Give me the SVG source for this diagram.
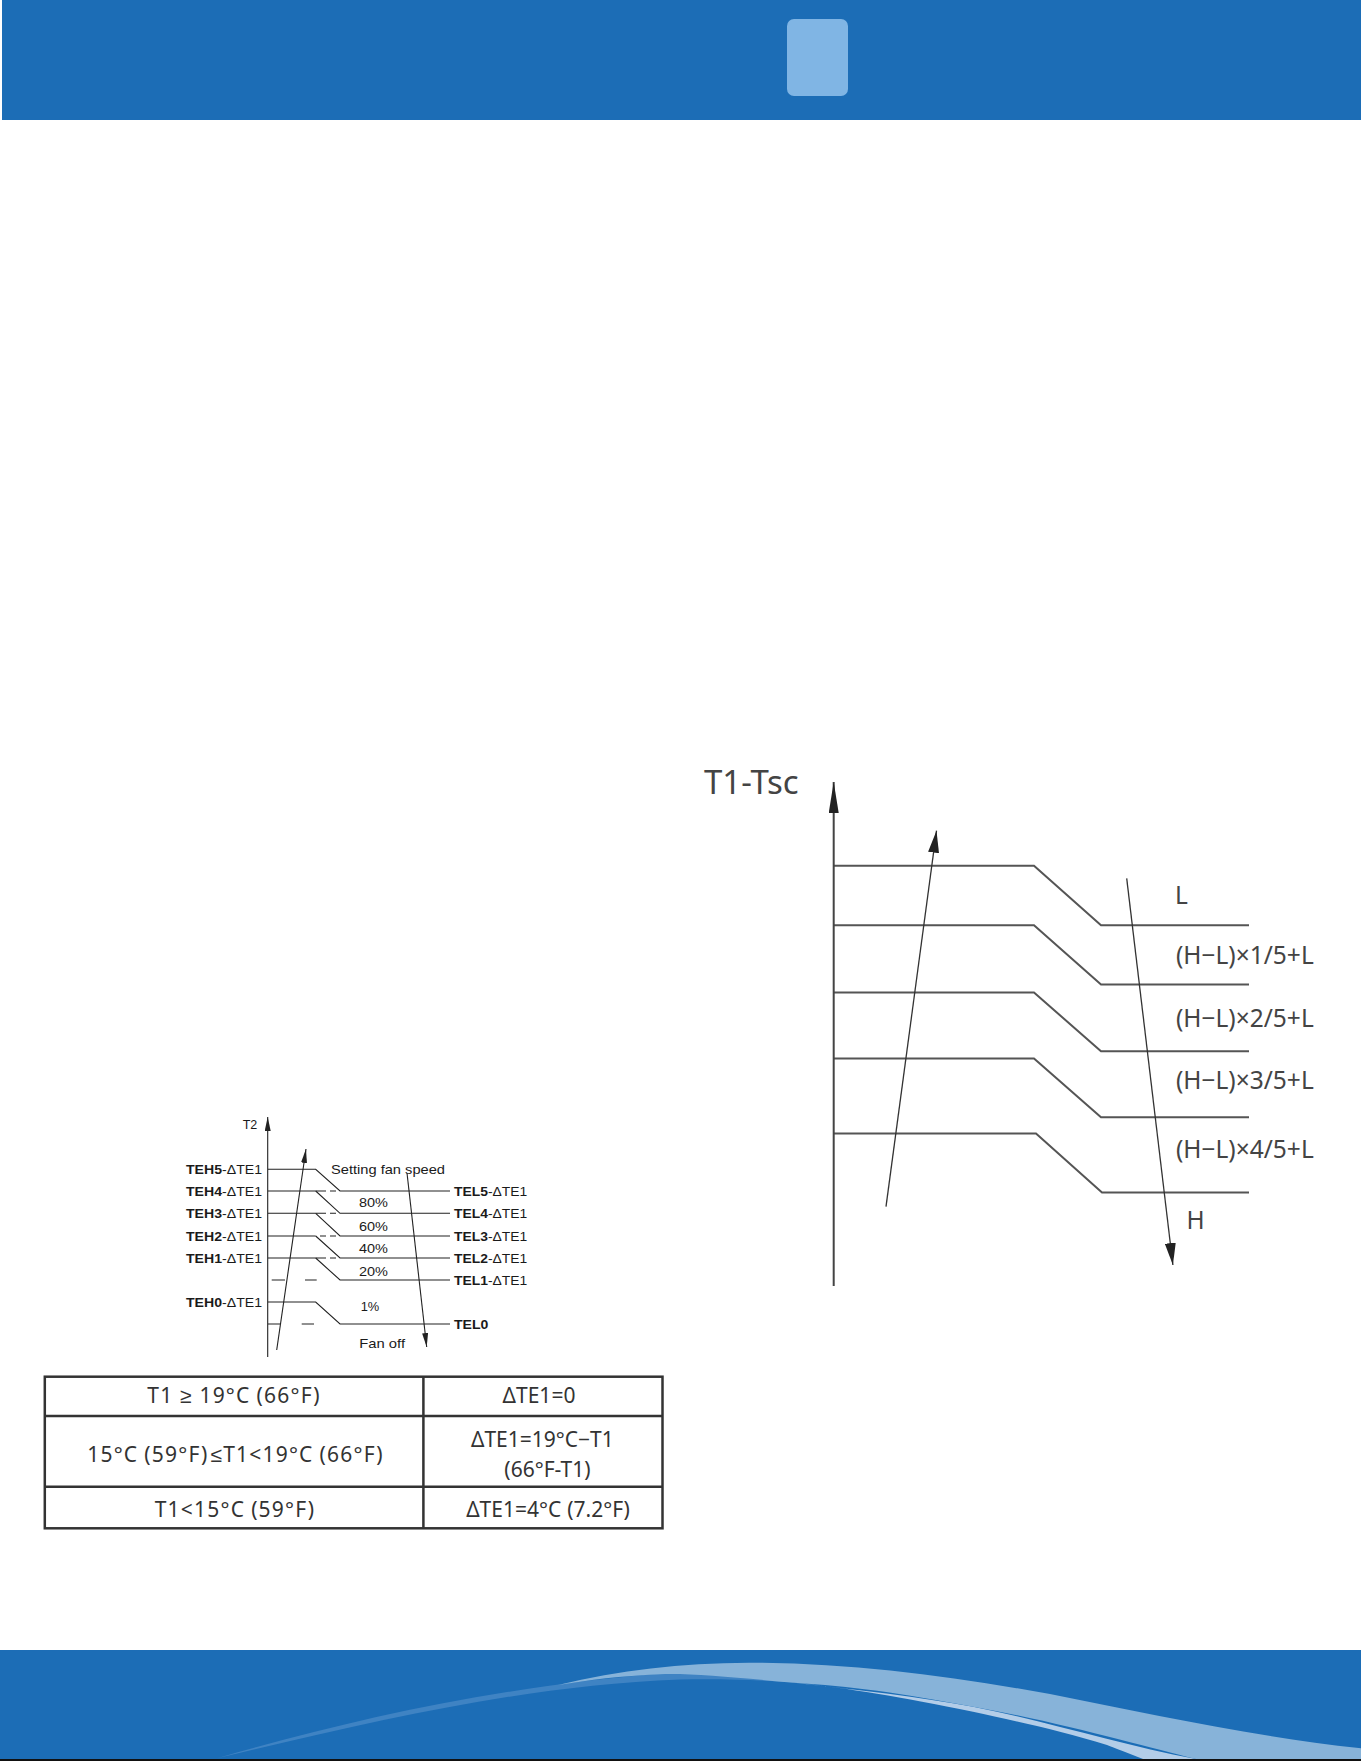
<svg xmlns="http://www.w3.org/2000/svg" width="1361" height="1761" viewBox="0 0 1361 1761">
<style>
.band{fill:#1c6db6}
.sc{stroke:#222;stroke-width:1.1;fill:none}
.st{font-family:"Liberation Sans",Arial,sans-serif;font-size:13px;fill:#1a1a1a}
.b{font-weight:bold}
.tb{font-family:"Noto Sans","Liberation Sans",sans-serif;font-size:21px;fill:#333;text-anchor:middle}
.tl{letter-spacing:1.2px}
.rl{stroke:#555;stroke-width:2;fill:none}
.ra{stroke:#333;stroke-width:1.3;fill:none}
.rt{font-family:"Noto Sans","Liberation Sans",sans-serif;font-size:24.5px;fill:#444}
</style>
<defs>
<marker id="axR" markerUnits="userSpaceOnUse" markerWidth="31" markerHeight="10" refX="31" refY="5" orient="auto"><path d="M0,0 L31,5 L0,10 Z" fill="#222"/></marker>
<marker id="arR" markerUnits="userSpaceOnUse" markerWidth="22" markerHeight="11" refX="22" refY="5.5" orient="auto"><path d="M0,0 L22,5.5 L0,11 Z" fill="#222"/></marker>
<marker id="arS" markerUnits="userSpaceOnUse" markerWidth="14" markerHeight="6" refX="14" refY="3" orient="auto"><path d="M0,0 L14,3 L0,6 Z" fill="#222"/></marker>
</defs>
<rect width="1361" height="1761" fill="#fff"/>

<g id="header">
<rect class="band" x="2" y="0" width="1359" height="120"/>
<rect x="787" y="19" width="61" height="77" rx="7" fill="#80b5e4"/>
</g>

<g id="footer">
<rect class="band" x="0" y="1650" width="1361" height="110"/>
<path d="M218,1758 C350,1720 500,1685 680,1672 C740,1669 770,1676 794,1682.5 C760,1680 720,1678.5 680,1679.5 C520,1686 380,1720 218,1758 Z" fill="#3f83c3"/>
<path d="M794,1682.7 C860,1690 920,1697 973,1706.7 C1050,1722 1120,1745 1196,1759 L1143,1759 C1125,1752 1115,1748 1107,1745 C1060,1730 1010,1720 973,1711.7 C900,1697 850,1688 794,1682.7 Z" fill="#b3cde8"/>
<path d="M558,1685 C620,1670 680,1663 749,1662.7 C850,1663 950,1676 1050,1694 C1150,1714 1250,1736 1361,1748.3 L1361,1759 L1196,1759 C1150,1748 1060,1722 973,1706.7 C900,1693 850,1686 794,1682.7 C740,1678 690,1673 660,1674.3 C620,1676 590,1680 558,1685 Z" fill="#87b3d9"/>
<rect x="0" y="1759" width="1361" height="2" fill="#111"/>
</g>

<g id="fan-chart">
<g id="fan-levels">
<path class="sc" d="M268,1169.3 H315.7 L340,1191 H450"/>
<path class="sc" d="M268,1191 H326 M330,1191 H336"/>
<path class="sc" d="M268,1213.3 H326 M330,1213.3 H336 M315.7,1191 L340,1213.3 H450"/>
<path class="sc" d="M315.7,1213.3 L340,1236 H450 M268,1236 H315.7 M320,1236 H326 M330,1236 H336"/>
<path class="sc" d="M315.7,1236 L340,1258 H450 M268,1258 H326 M330,1258 H336"/>
<path class="sc" d="M315.7,1258 L340,1280 H450 M271.7,1280 H285 M305,1280 H316.7"/>
<path class="sc" d="M268,1302 H315.7 L340,1324 H450 M268,1324 H280 M301.7,1324 H314"/>
</g>
<g id="fan-labels">
<text class="st" x="242.7" y="1129.3" textLength="14.6" lengthAdjust="spacingAndGlyphs">T2</text>
<text class="st" x="186" y="1174" textLength="76" lengthAdjust="spacingAndGlyphs"><tspan class="b">TEH5</tspan>-ΔTE1</text>
<text class="st" x="186" y="1196" textLength="76" lengthAdjust="spacingAndGlyphs"><tspan class="b">TEH4</tspan>-ΔTE1</text>
<text class="st" x="186" y="1218" textLength="76" lengthAdjust="spacingAndGlyphs"><tspan class="b">TEH3</tspan>-ΔTE1</text>
<text class="st" x="186" y="1240.5" textLength="76" lengthAdjust="spacingAndGlyphs"><tspan class="b">TEH2</tspan>-ΔTE1</text>
<text class="st" x="186" y="1262.5" textLength="76" lengthAdjust="spacingAndGlyphs"><tspan class="b">TEH1</tspan>-ΔTE1</text>
<text class="st" x="186" y="1306.5" textLength="76" lengthAdjust="spacingAndGlyphs"><tspan class="b">TEH0</tspan>-ΔTE1</text>
<text class="st" x="454" y="1195.5" textLength="73.3" lengthAdjust="spacingAndGlyphs"><tspan class="b">TEL5</tspan>-ΔTE1</text>
<text class="st" x="454" y="1218" textLength="73.3" lengthAdjust="spacingAndGlyphs"><tspan class="b">TEL4</tspan>-ΔTE1</text>
<text class="st" x="454" y="1240.5" textLength="73.3" lengthAdjust="spacingAndGlyphs"><tspan class="b">TEL3</tspan>-ΔTE1</text>
<text class="st" x="454" y="1262.5" textLength="73.3" lengthAdjust="spacingAndGlyphs"><tspan class="b">TEL2</tspan>-ΔTE1</text>
<text class="st" x="454" y="1284.5" textLength="73.3" lengthAdjust="spacingAndGlyphs"><tspan class="b">TEL1</tspan>-ΔTE1</text>
<text class="st b" x="454" y="1328.5" textLength="34.3" lengthAdjust="spacingAndGlyphs">TEL0</text>
<text class="st" x="331" y="1174" textLength="114" lengthAdjust="spacingAndGlyphs">Setting fan speed</text>
<text class="st" x="359" y="1207.3" textLength="29" lengthAdjust="spacingAndGlyphs">80%</text>
<text class="st" x="359" y="1230.7" textLength="29" lengthAdjust="spacingAndGlyphs">60%</text>
<text class="st" x="359" y="1253.3" textLength="29" lengthAdjust="spacingAndGlyphs">40%</text>
<text class="st" x="359" y="1275.5" textLength="29" lengthAdjust="spacingAndGlyphs">20%</text>
<text class="st" x="360.7" y="1311" textLength="18.6" lengthAdjust="spacingAndGlyphs">1%</text>
<text class="st" x="359.3" y="1348" textLength="45.7" lengthAdjust="spacingAndGlyphs">Fan off</text>
</g>
</g>

<g id="table">
<rect x="44.8" y="1376.7" width="617.7" height="151.6" fill="none" stroke="#333" stroke-width="2.5"/>
<path d="M423.4,1376.7 V1528.3 M44.8,1416 H662.5 M44.8,1486.7 H662.5" stroke="#333" stroke-width="2.5" fill="none"/>
<text class="tb tl" x="234" y="1403.3">T1 ≥ 19°C<tspan dx="6">(66°F)</tspan></text>
<text class="tb" x="539" y="1403.3">ΔTE1=0</text>
<text class="tb tl" x="235.5" y="1461.7">15°C<tspan dx="6">(59°F)</tspan><tspan dx="2">≤T1&lt;19°C</tspan><tspan dx="6">(66°F)</tspan></text>
<text class="tb" x="542.4" y="1446.7">ΔTE1=19°C−T1</text>
<text class="tb" x="547.4" y="1476.7">(66°F-T1)</text>
<text class="tb tl" x="235" y="1516.7">T1&lt;15°C<tspan dx="6">(59°F)</tspan></text>
<text class="tb" x="548" y="1516.7">ΔTE1=4°C<tspan dx="6">(7.2°F)</tspan></text>
</g>

<g id="speed-chart">
<g id="speed-levels">
<path class="rl" d="M833.7,865.7 H1034 L1101,925.3 H1249"/>
<path class="rl" d="M833.7,925.3 H1034 L1101,984.6 H1249"/>
<path class="rl" d="M833.7,992.5 H1034 L1101,1051.2 H1249"/>
<path class="rl" d="M833.7,1058.6 H1034 L1101,1117.3 H1249"/>
<path class="rl" d="M833.7,1133.6 H1036 L1102,1192.4 H1249"/>
</g>
<g id="speed-labels">
<text class="rt" x="704" y="794" style="font-size:33px">T1-Tsc</text>
<text class="rt" x="1175" y="904.3">L</text>
<text class="rt" x="1176" y="964.3">(H−L)×1/5+L</text>
<text class="rt" x="1176" y="1026.7">(H−L)×2/5+L</text>
<text class="rt" x="1176" y="1089.3">(H−L)×3/5+L</text>
<text class="rt" x="1176" y="1158.3">(H−L)×4/5+L</text>
<text class="rt" x="1186.5" y="1229.3">H</text>
</g>
</g>

<g id="connectors">
<line x1="267.7" y1="1357" x2="267.7" y2="1117" stroke="#222" stroke-width="1.1" marker-end="url(#arS)"/>
<line x1="276.7" y1="1350" x2="306" y2="1149" stroke="#222" stroke-width="1.1" marker-end="url(#arS)"/>
<line x1="407" y1="1173" x2="426.7" y2="1347" stroke="#222" stroke-width="1.1" marker-end="url(#arS)"/>
<line x1="833.7" y1="1286" x2="833.7" y2="782" stroke="#444" stroke-width="2" marker-end="url(#axR)"/>
<line class="ra" x1="886" y1="1206.7" x2="936.5" y2="830.7" marker-end="url(#arR)"/>
<line class="ra" x1="1126.7" y1="878.3" x2="1172.9" y2="1265" marker-end="url(#arR)"/>
</g>
</svg>
